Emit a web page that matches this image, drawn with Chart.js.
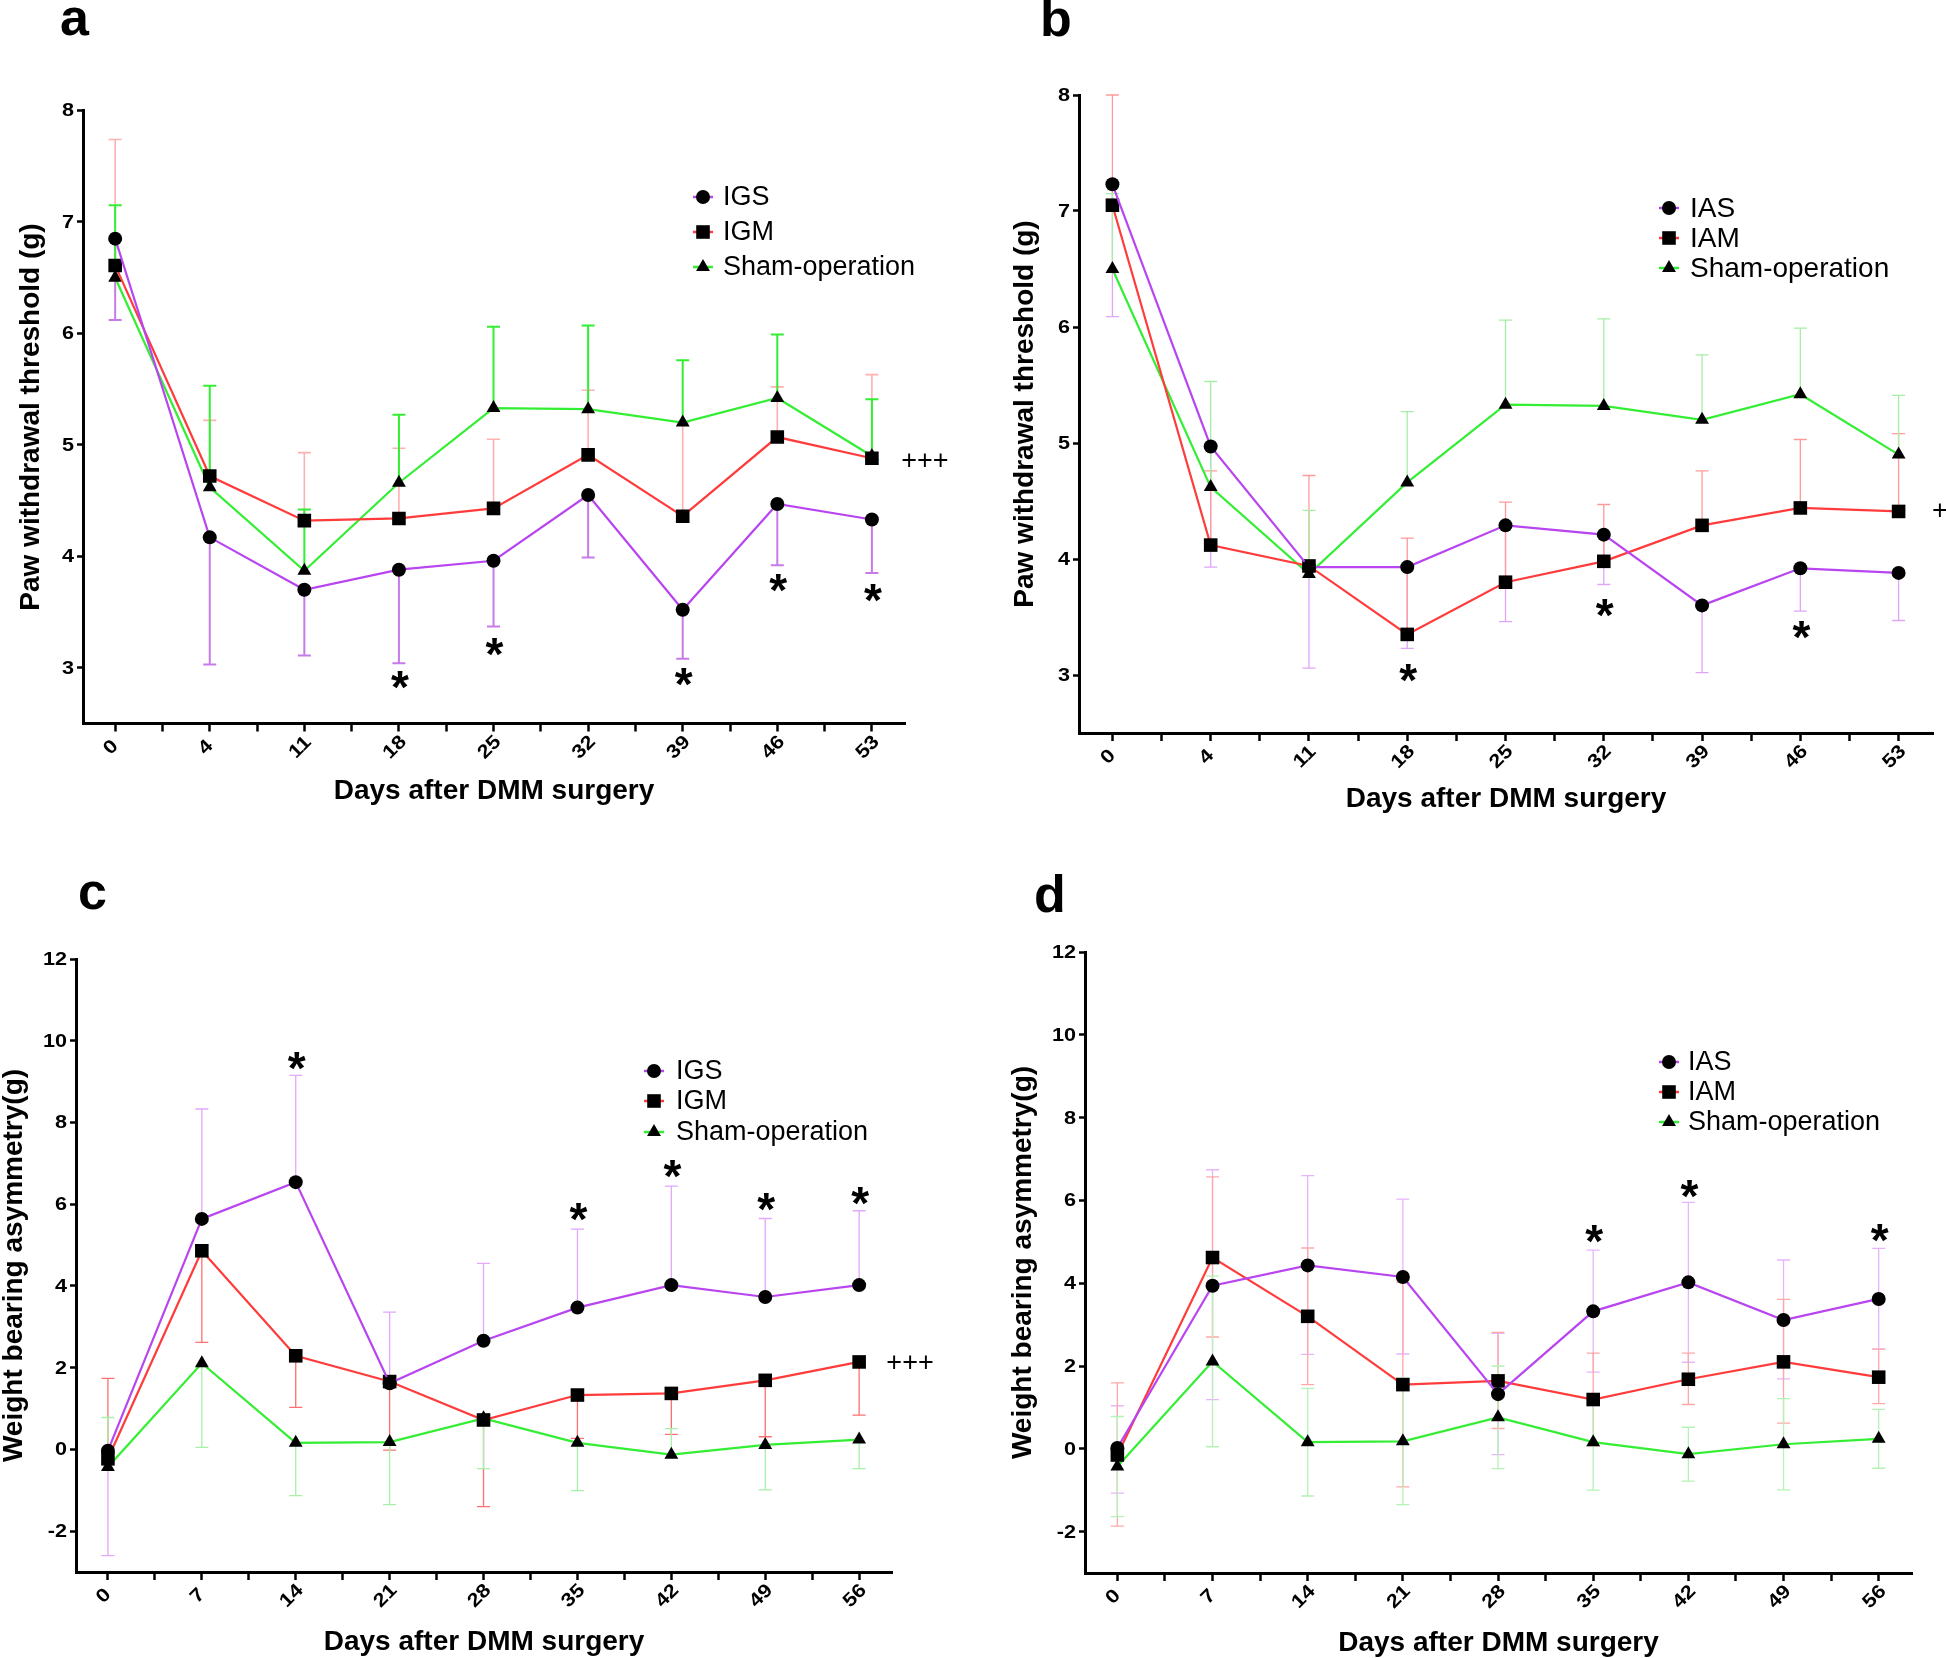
<!DOCTYPE html>
<html><head><meta charset="utf-8">
<script src="https://cdn.jsdelivr.net/npm/chart.js@4.4.0/dist/chart.umd.min.js"></script>
<style>
html,body{margin:0;padding:0;background:#fff;}
#wrap{position:relative;width:1946px;height:1658px;overflow:hidden;background:#fff;}
canvas{position:absolute;}
</style></head><body><div id="wrap">
<canvas id="ca" width="973" height="829" style="left:0;top:0"></canvas>
<canvas id="cb" width="973" height="829" style="left:973px;top:0"></canvas>
<canvas id="cc" width="973" height="829" style="left:0;top:829px"></canvas>
<canvas id="cd" width="973" height="829" style="left:973px;top:829px"></canvas>
</div>
<script>
// ---------- categories ----------
const daysAB = ['0','4','11','18','25','32','39','46','53'];
const daysCD = ['0','7','14','21','28','35','42','49','56'];
const yTicksAB = [3,4,5,6,7,8];
const yTicksCD = [-2,0,2,4,6,8,10,12];

// ---------- panel a: paw withdrawal threshold (IGS / IGM / Sham) ----------
const igsA   = [6.85, 4.17, 3.70, 3.88, 3.96, 4.55, 3.52, 4.47, 4.33];
const igsALo = [6.12, 3.03, 3.11, 3.04, 3.37, 3.99, 3.08, 3.92, 3.85];
const igmA   = [6.61, 4.72, 4.32, 4.34, 4.43, 4.91, 4.36, 5.07, 4.88];
const igmAHi = [7.74, 5.22, 4.93, 4.97, 5.05, 5.49, 5.20, 5.52, 5.63];
const shamAB   = [6.50, 4.62, 3.87, 4.66, 5.33, 5.32, 5.20, 5.42, 4.90];
const shamABHi = [7.15, 5.53, 4.42, 5.27, 6.06, 6.07, 5.76, 5.99, 5.41];
const starsA = [[3, 2.89], [4, 3.19], [6, 2.92], [7, 3.76], [8, 3.67]];

// ---------- panel b: paw withdrawal threshold (IAS / IAM / Sham) ----------
const iasB   = [7.23, 4.97, 3.93, 3.93, 4.29, 4.21, 3.60, 3.92, 3.88];
const iasBLo = [6.09, 3.93, 3.06, 3.23, 3.46, 3.78, 3.02, 3.55, 3.47];
const iamB   = [7.05, 4.12, 3.94, 3.35, 3.80, 3.98, 4.29, 4.44, 4.41];
const iamBHi = [8.00, 4.76, 4.72, 4.18, 4.49, 4.47, 4.76, 5.03, 5.08];
const starsB = [[3, 3.02], [5, 3.58], [7, 3.39]];

// ---------- panel c: weight bearing asymmetry (IGS / IGM / Sham) ----------
const igsC   = [-0.03, 5.64, 6.54, 1.62, 2.66, 3.47, 4.02, 3.73, 4.02];
const igsCHi = [null, 8.33, 9.15, 3.36, 4.55, 5.39, 6.44, 5.65, 5.84];
const igsCLo = [-2.60, null, null, null, null, null, null, null, null];
const igmC   = [-0.23, 4.86, 2.29, 1.66, 0.72, 1.33, 1.37, 1.69, 2.14];
const igmCHi = [1.74, null, null, null, null, null, null, null, null];
const igmCLo = [null, 2.62, 1.03, -0.02, -1.40, 0.27, 0.37, 0.31, 0.84];
const shamCD   = [-0.43, 2.11, 0.16, 0.18, 0.76, 0.16, -0.13, 0.11, 0.24];
const shamCHi  = [0.78, null, null, null, null, null, 0.51, null, null];
const shamCLo  = [null, 0.05, -1.13, -1.35, -0.47, -1.01, null, -0.99, -0.47];
const starsC = [[2, 9.50], [5, 5.80], [6, 6.86], [7, 6.05], [8, 6.19]];

// ---------- panel d: weight bearing asymmetry (IAS / IAM / Sham) ----------
const iasD   = [0.02, 3.94, 4.43, 4.15, 1.32, 3.32, 4.02, 3.11, 3.62];
const iasDHi = [1.04, 6.74, 6.60, 6.03, 2.79, 4.80, 5.95, 4.56, 4.84];
const iasDLo = [-1.07, 1.19, 2.28, 2.29, -0.14, 1.85, 2.09, 1.69, 2.41];
const iamD   = [-0.15, 4.62, 3.20, 1.55, 1.64, 1.19, 1.68, 2.10, 1.73];
const iamDHi = [1.59, 6.57, 4.85, 4.02, 2.81, 2.31, 2.31, 3.61, 2.41];
const iamDLo = [-1.87, 2.70, 1.55, -0.92, 0.49, 0.07, 1.07, 0.62, 1.09];
const shamDHi = [0.78, 4.17, 1.46, 1.71, 2.00, 1.32, 0.52, 1.21, 0.95];
const shamDLo = [-1.64, 0.05, -1.14, -1.35, -0.48, -1.00, -0.78, -0.99, -0.47];
const starsD = [[5, 5.18], [6, 6.28], [8, 5.22]];

// ---------- styling ----------
const FONT = '"Liberation Sans", Arial, Helvetica, sans-serif';
const PURPLE = '#b845f0', RED = '#ff3b3b', GREEN = '#33ee33';
const CW = 973, CH = 829, YW = 60, XH = 40;
const xTickVals = [0,0.5,1,1.5,2,2.5,3,3.5,4,4.5,5,5.5,6,6.5,7,7.5,8];
const NONE = [null,null,null,null,null,null,null,null,null];

const panels = [
  { id:'ca', ox:0, oy:0, labels:daysAB, yMin:2.5, yMax:8, yTicks:yTicksAB, tickFont:18,
    area:{l:83, t:110.5, r:905, b:723.5},
    series:[
      {label:'IGS', data:igsA, hi:NONE, lo:igsALo, color:PURPLE, bar:'#c67be8', barW:2, style:'circle'},
      {label:'IGM', data:igmA, hi:igmAHi, lo:NONE, color:RED, bar:'#ffb0b0', barW:1.6, style:'rect'},
      {label:'Sham-operation', data:shamAB, hi:shamABHi, lo:NONE, color:GREEN, bar:'#33ee33', barW:2, style:'triangle'}],
    stars:starsA, plus:[8.31, 4.85, '+++'],
    yTitle:'Paw withdrawal threshold (g)', yTitleOff:52, xTitleOff:68,
    legend:{x:703, y:[197,232,267], tx:723, font:27}, letter:{t:'a', x:60, y:35} },
  { id:'cb', ox:973, oy:0, labels:daysAB, yMin:2.5, yMax:8, yTicks:yTicksAB, tickFont:18,
    area:{l:1079, t:95, r:1933, b:733},
    series:[
      {label:'IAS', data:iasB, hi:NONE, lo:iasBLo, color:PURPLE, bar:'#dfa6f7', barW:1.3, style:'circle'},
      {label:'IAM', data:iamB, hi:iamBHi, lo:NONE, color:RED, bar:'#ff9a9a', barW:1.3, style:'rect'},
      {label:'Sham-operation', data:shamAB, hi:shamABHi, lo:NONE, color:GREEN, bar:'#a6eea6', barW:1.3, style:'triangle'}],
    stars:starsB, plus:[8.34, 4.41, '+++'],
    yTitle:'Paw withdrawal threshold (g)', yTitleOff:54, xTitleOff:66,
    legend:{x:1669, y:[208,238,268], tx:1690, font:28}, letter:{t:'b', x:1040, y:36} },
  { id:'cc', ox:0, oy:829, labels:daysCD, yMin:-3, yMax:12, yTicks:yTicksCD, tickFont:18,
    area:{l:76, t:959, r:892, b:1572},
    series:[
      {label:'IGS', data:igsC, hi:igsCHi, lo:igsCLo, color:PURPLE, bar:'#e2a8fb', barW:1.3, style:'circle'},
      {label:'IGM', data:igmC, hi:igmCHi, lo:igmCLo, color:RED, bar:'#ff6f6f', barW:1.3, style:'rect'},
      {label:'Sham-operation', data:shamCD, hi:shamCHi, lo:shamCLo, color:GREEN, bar:'#a8f0a8', barW:1.3, style:'triangle'}],
    stars:starsC, plus:[8.29, 2.10, '+++'],
    yTitle:'Weight bearing asymmetry(g)', yTitleOff:62, xTitleOff:70,
    legend:{x:654, y:[1071,1101,1132], tx:676, font:27}, letter:{t:'c', x:78, y:909} },
  { id:'cd', ox:973, oy:829, labels:daysCD, yMin:-3, yMax:12, yTicks:yTicksCD, tickFont:18,
    area:{l:1085, t:952, r:1912, b:1573},
    series:[
      {label:'IAS', data:iasD, hi:iasDHi, lo:iasDLo, color:PURPLE, bar:'#e7b5fb', barW:1.3, style:'circle'},
      {label:'IAM', data:iamD, hi:iamDHi, lo:iamDLo, color:RED, bar:'#ffa8a8', barW:1.3, style:'rect'},
      {label:'Sham-operation', data:shamCD, hi:shamDHi, lo:shamDLo, color:GREEN, bar:'#b5f2b5', barW:1.3, style:'triangle'}],
    stars:starsD, plus:null,
    yTitle:'Weight bearing asymmetry(g)', yTitleOff:62, xTitleOff:70,
    legend:{x:1669, y:[1062,1092,1122], tx:1688, font:27}, letter:{t:'d', x:1034, y:912} }
];

const RADII = {circle:7, rect:9.6, triangle:8};

function drawMarker(ctx, style, x, y, r) {
  ctx.beginPath();
  if (style === 'circle') { ctx.arc(x, y, r, 0, Math.PI * 2); }
  else if (style === 'rect') { const s = r * Math.SQRT1_2; ctx.rect(x - s, y - s, 2 * s, 2 * s); }
  else {
    let a = 0;
    ctx.moveTo(x + Math.sin(a) * r, y - Math.cos(a) * r); a += 2 * Math.PI / 3;
    ctx.lineTo(x + Math.sin(a) * r, y - Math.cos(a) * r); a += 2 * Math.PI / 3;
    ctx.lineTo(x + Math.sin(a) * r, y - Math.cos(a) * r); ctx.closePath();
  }
  ctx.fillStyle = '#000'; ctx.fill();
}

function makeDeco(P) {
  return {
    id: 'deco_' + P.id,
    beforeDatasetsDraw(chart) {
      const ctx = chart.ctx, xs = chart.scales.x, ys = chart.scales.y;
      ctx.save();
      P.series.forEach(s => {
        ctx.strokeStyle = s.bar; ctx.lineWidth = s.barW;
        s.data.forEach((v, j) => {
          const x = xs.getPixelForValue(j), y0 = ys.getPixelForValue(v);
          [s.hi[j], s.lo[j]].forEach(e => {
            if (e === null || e === undefined) return;
            const y1 = ys.getPixelForValue(e);
            ctx.beginPath(); ctx.moveTo(x, y0); ctx.lineTo(x, y1);
            ctx.moveTo(x - 6.5, y1); ctx.lineTo(x + 6.5, y1); ctx.stroke();
          });
        });
      });
      ctx.restore();
    },
    afterDraw(chart) {
      const ctx = chart.ctx, xs = chart.scales.x, ys = chart.scales.y, A = chart.chartArea;
      ctx.save();
      ctx.fillStyle = '#000';
      // y tick labels (wide bold, as in the original figure)
      ctx.font = 'bold ' + P.tickFont + 'px ' + FONT;
      ctx.textAlign = 'right'; ctx.textBaseline = 'middle';
      P.yTicks.forEach(v => {
        ctx.save(); ctx.translate(A.left - 9, ys.getPixelForValue(v) + 1); ctx.scale(1.2, 1);
        ctx.fillText(String(v), 0, 0); ctx.restore();
      });
      // x tick labels (rotated)
      ctx.font = 'bold 19px ' + FONT;
      ctx.textAlign = 'center'; ctx.textBaseline = 'middle';
      P.labels.forEach((lab, j) => {
        const x = xs.getPixelForValue(j);
        ctx.save(); ctx.translate(x - 4, A.bottom + 24); ctx.rotate(-Math.PI / 4); ctx.scale(1.15, 1);
        ctx.fillText(lab, 0, 0); ctx.restore();
      });
      // axis titles
      ctx.font = 'bold 28px ' + FONT;
      ctx.fillText('Days after DMM surgery', (A.left + A.right) / 2, A.bottom + P.xTitleOff);
      ctx.save(); ctx.translate(A.left - P.yTitleOff, (A.top + A.bottom) / 2); ctx.rotate(-Math.PI / 2);
      ctx.fillText(P.yTitle, 0, 0); ctx.restore();
      // stars
      ctx.font = 'bold 46px ' + FONT;
      ctx.textAlign = 'center'; ctx.textBaseline = 'alphabetic';
      const m = ctx.measureText('*');
      const mid = (m.actualBoundingBoxAscent - m.actualBoundingBoxDescent) / 2;
      P.stars.forEach(([j, v]) => {
        ctx.fillText('*', xs.getPixelForValue(j) + 1, ys.getPixelForValue(v) + mid);
      });
      // plus signs
      if (P.plus) {
        ctx.font = '27px ' + FONT; ctx.textAlign = 'left'; ctx.textBaseline = 'middle';
        ctx.fillText(P.plus[2], xs.getPixelForValue(P.plus[0]), ys.getPixelForValue(P.plus[1]));
      }
      // legend
      const L = P.legend;
      ctx.font = L.font + 'px ' + FONT; ctx.textAlign = 'left'; ctx.textBaseline = 'middle';
      P.series.forEach((s, i) => {
        const lx = L.x - P.ox, ly = L.y[i] - P.oy;
        ctx.strokeStyle = s.color; ctx.lineWidth = 2.5;
        ctx.beginPath(); ctx.moveTo(lx - 10, ly); ctx.lineTo(lx + 10, ly); ctx.stroke();
        drawMarker(ctx, s.style, lx, ly, RADII[s.style]);
        ctx.fillStyle = '#000';
        ctx.fillText(s.label, L.tx - P.ox, ly + 1);
      });
      // panel letter
      ctx.font = 'bold 52px ' + FONT; ctx.textBaseline = 'alphabetic'; ctx.textAlign = 'left';
      ctx.fillText(P.letter.t, P.letter.x - P.ox, P.letter.y - P.oy);
      ctx.restore();
    }
  };
}

panels.forEach(P => {
  const A = {l: P.area.l - P.ox, t: P.area.t - P.oy, r: P.area.r - P.ox, b: P.area.b - P.oy};
  const datasets = P.series.map(s => ({
    label: s.label,
    data: s.data.map((v, j) => ({x: j, y: v})),
    borderColor: s.color, borderWidth: 2.2, tension: 0, fill: false,
    pointStyle: s.style, pointRadius: RADII[s.style], pointHoverRadius: RADII[s.style],
    pointBackgroundColor: '#000', pointBorderColor: '#000', pointBorderWidth: 0
  }));
  new Chart(document.getElementById(P.id), {
    type: 'line',
    data: { datasets },
    options: {
      responsive: false, animation: false, devicePixelRatio: 1,
      layout: { padding: { left: A.l - YW, top: A.t, right: CW - A.r, bottom: CH - A.b - XH } },
      plugins: { legend: { display: false }, tooltip: { enabled: false } },
      scales: {
        x: {
          type: 'linear', min: -0.34, max: 8.35,
          afterBuildTicks: s => { s.ticks = xTickVals.map(v => ({value: v})); },
          afterFit: s => { s.height = XH; },
          ticks: { display: false },
          grid: { display: true, drawOnChartArea: false, drawTicks: true, tickLength: 8, tickWidth: 2.5, tickColor: '#000' },
          border: { display: true, color: '#000', width: 3 }
        },
        y: {
          type: 'linear', min: P.yMin, max: P.yMax,
          afterBuildTicks: s => { s.ticks = P.yTicks.map(v => ({value: v})); },
          afterFit: s => { s.width = YW; },
          ticks: { display: false },
          grid: { display: true, drawOnChartArea: false, drawTicks: true, tickLength: 6, tickWidth: 2.5, tickColor: '#000' },
          border: { display: true, color: '#000', width: 3 }
        }
      }
    },
    plugins: [makeDeco(P)]
  });
});
</script>
</body></html>
